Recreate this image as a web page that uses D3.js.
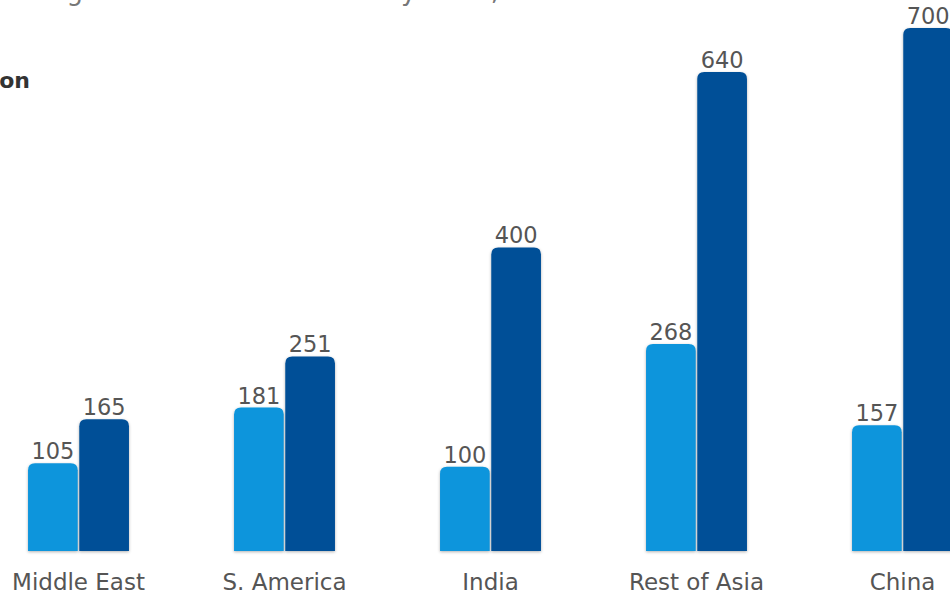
<!DOCTYPE html>
<html>
<head>
<meta charset="utf-8">
<script src="https://cdn.jsdelivr.net/npm/d3@7"></script>
<style>
  html, body { margin: 0; padding: 0; background: #fff; }
  svg { display: block; }
</style>
</head>
<body>
<svg id="chart" width="950" height="596"></svg>
<script>
// Middle-class population by region, millions
const categories = ["Middle East", "S. America", "India", "Rest of Asia", "China"];
const seriesNames = ["2009", "2030"];
const values2009 = [105, 181, 100, 268, 157];
const values2030 = [165, 251, 400, 640, 700];
const colors = ["#0c95dc", "#064f97"];

const svg = d3.select("#chart");

// drop shadow for bars
const defs = svg.append("defs");
const f = defs.append("filter").attr("id", "shadow")
  .attr("x", "-20%").attr("y", "-20%").attr("width", "140%").attr("height", "140%");
f.append("feDropShadow").attr("dx", 0).attr("dy", 1).attr("stdDeviation", 1.6)
  .attr("flood-color", "#000").attr("flood-opacity", 0.3);

// title (runs above the top edge)
svg.append("text")
  .attr("x", 4).attr("y", 0)
  .attr("font-family", "DejaVu Sans, Verdana, sans-serif")
  .attr("font-size", 26).attr("fill", "#777")
  .text("Rising middle class numbers by 2030, in millions");

svg.append("text")
  .attr("x", 30).attr("y", 88)
  .attr("text-anchor", "end")
  .attr("font-family", "DejaVu Sans, Verdana, sans-serif")
  .attr("font-weight", "bold")
  .attr("font-size", 22).attr("fill", "#333")
  .text("Million");

const baseY = 540;   // zero line
const plinth = 11;   // bars run slightly below the zero line
const x0 = d3.scaleBand().domain(categories)
  .range([-24.5, 1005.5]).paddingInner(0.51).paddingOuter(0.255);
const x1 = d3.scaleBand().domain(seriesNames)
  .range([0, x0.bandwidth()]).paddingInner(0.03);
const y = d3.scaleLinear().domain([0, 700]).range([baseY, 28]);

function topRounded(x, yTop, w, yBot, r) {
  return `M${x},${yBot} V${yTop + r} Q${x},${yTop} ${x + r},${yTop} H${x + w - r} Q${x + w},${yTop} ${x + w},${yTop + r} V${yBot} Z`;
}

const rows = categories.map((c, i) => ({
  cat: c,
  bars: [
    { s: seriesNames[0], v: values2009[i], color: colors[0] },
    { s: seriesNames[1], v: values2030[i], color: colors[1] }
  ]
}));

const g = svg.append("g");
const groups = g.selectAll("g.grp").data(rows).join("g")
  .attr("class", "grp")
  .attr("transform", d => `translate(${x0(d.cat)},0)`);

groups.selectAll("path").data(d => d.bars).join("path")
  .attr("d", d => topRounded(x1(d.s), y(d.v), x1.bandwidth(), baseY + plinth, 7))
  .attr("fill", d => d.color)
  .attr("filter", "url(#shadow)");

groups.selectAll("text.val").data(d => d.bars).join("text")
  .attr("class", "val")
  .attr("x", d => x1(d.s) + x1.bandwidth() / 2)
  .attr("y", d => y(d.v) - 4)
  .attr("text-anchor", "middle")
  .attr("font-family", "DejaVu Sans, Verdana, sans-serif")
  .attr("font-size", 22.5).attr("fill", "#555")
  .text(d => d.v);

// category axis labels
const xAxis = d3.axisBottom(x0).tickSize(0).tickPadding(0);
const ax = svg.append("g").attr("transform", `translate(0,${baseY + plinth})`).call(xAxis);
ax.select(".domain").remove();
ax.selectAll("text")
  .attr("y", 39).attr("dy", null)
  .attr("font-family", "DejaVu Sans, Verdana, sans-serif")
  .attr("font-size", 23).attr("fill", "#555");
</script>
</body>
</html>
